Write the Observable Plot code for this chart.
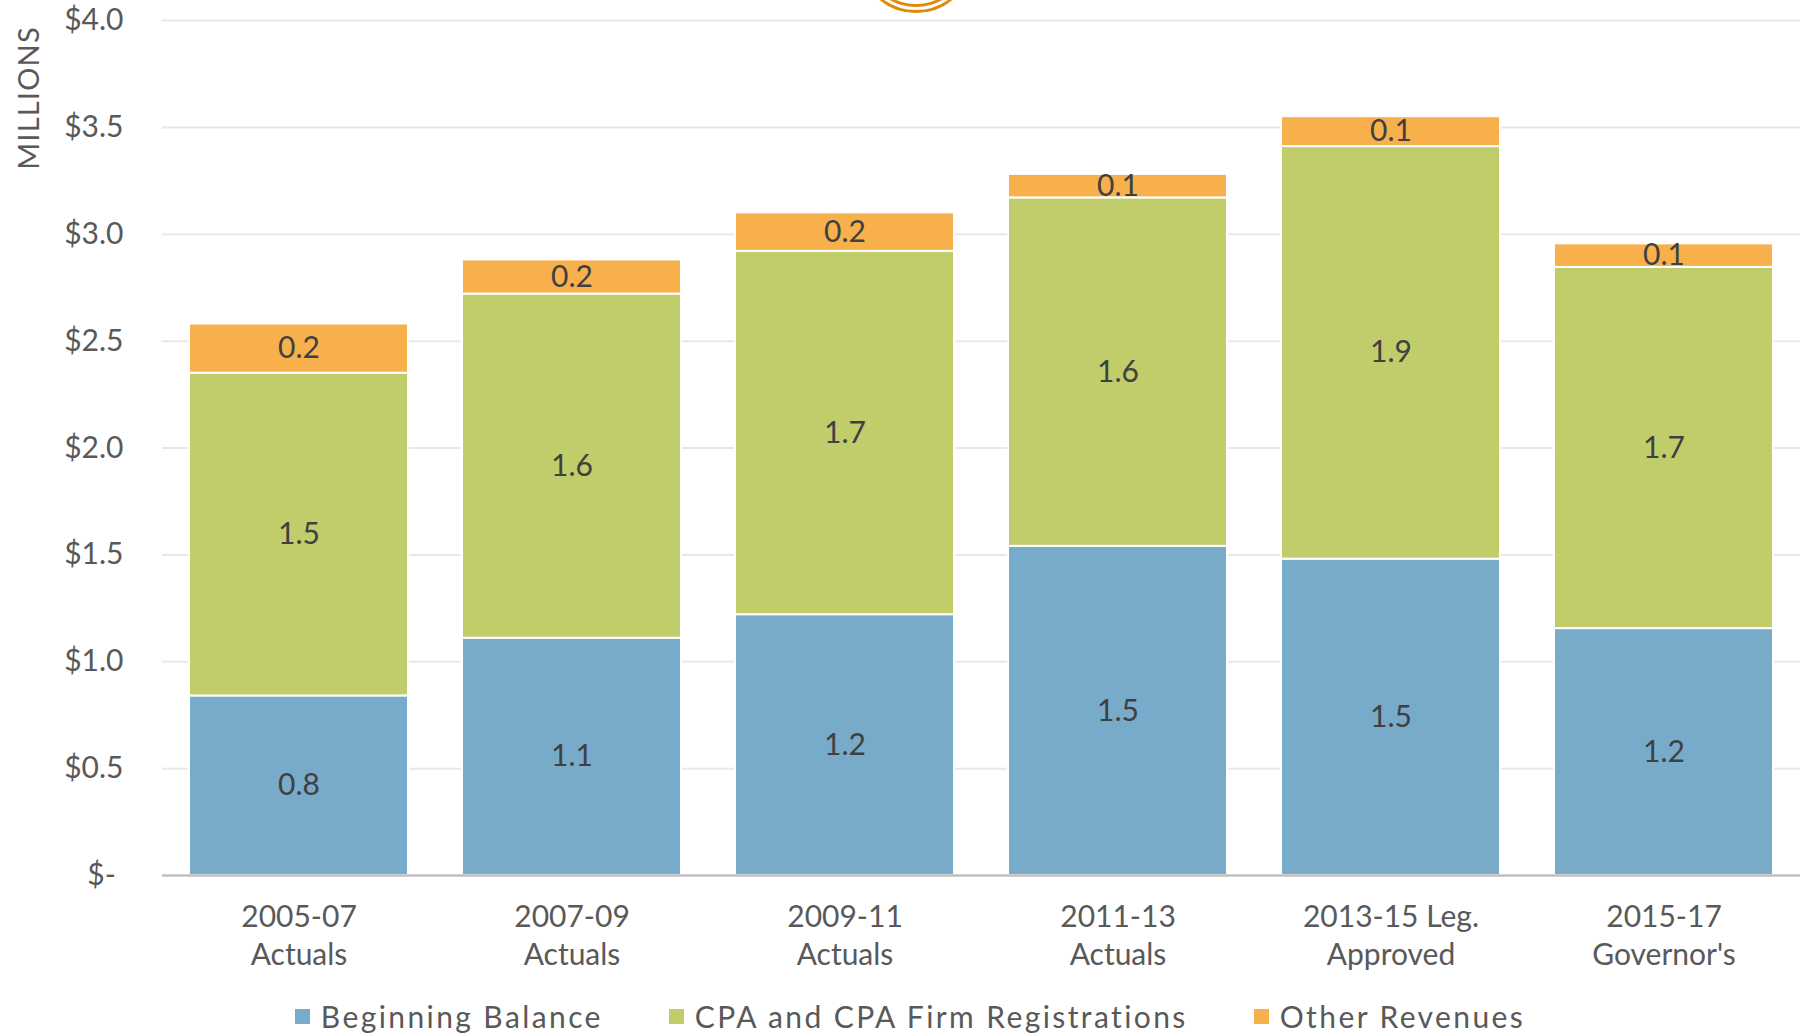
<!DOCTYPE html>
<html><head><meta charset="utf-8">
<script src="https://cdn.jsdelivr.net/npm/d3@7"></script>
<script src="https://cdn.jsdelivr.net/npm/@observablehq/plot@0.6"></script>
<style>
body{margin:0;background:#fff;font-family:Lato, "Open Sans", sans-serif;color:#595959;overflow:hidden;}
#wrap{position:relative;width:1804px;height:1035px;}
#legend{position:absolute;left:8px;top:998px;width:1804px;display:flex;justify-content:center;align-items:center;gap:0;font-size:30px;letter-spacing:2.4px;color:#595959;}
.item{display:flex;align-items:center;margin:0 33px;}
.sw{width:15px;height:15px;margin-right:11px;}
#millions{position:absolute;left:27px;top:98px;transform:translate(-50%,-50%) rotate(-90deg);font-size:29px;letter-spacing:1.2px;color:#595959;white-space:nowrap;}
#ring{position:absolute;left:858px;top:-103px;width:116px;height:116px;border-radius:50%;border:3.5px solid #e2890a;box-sizing:border-box;}
#ring2{position:absolute;left:864px;top:-97px;width:104px;height:104px;border-radius:50%;border:3.5px solid #e2890a;box-sizing:border-box;}
</style></head><body>
<div id="wrap"><div id="chart"></div><div id="ring"></div><div id="ring2"></div><div id="millions">MILLIONS</div><div id="legend"></div></div>
<script>
const categories = ["2005-07\nActuals", "2007-09\nActuals", "2009-11\nActuals", "2011-13\nActuals", "2013-15 Leg.\nApproved", "2015-17\nGovernor's"];
const seriesNames = ["Beginning Balance", "CPA and CPA Firm Registrations", "Other Revenues"];
const beginningBalance = [0.84, 1.11, 1.22, 1.54, 1.48, 1.155];
const cpaRegistrations = [1.51, 1.61, 1.70, 1.63, 1.93, 1.69];
const otherRevenues = [0.23, 0.16, 0.18, 0.11, 0.14, 0.11];
const seriesColors = ["#78abc9", "#c1cc6b", "#f7b04c"];
const yTicks = [0, 0.5, 1, 1.5, 2, 2.5, 3, 3.5, 4];

const seriesValues = [beginningBalance, cpaRegistrations, otherRevenues];
const data = [];
seriesNames.forEach((s, si) => categories.forEach((c, ci) => data.push({category: c, series: s, value: seriesValues[si][ci]})));

const chart = Plot.plot({
  width: 1804,
  height: 996,
  marginLeft: 162,
  marginRight: 4,
  marginTop: 20,
  marginBottom: 121,
  style: {fontFamily: "Lato, 'Open Sans', sans-serif", fontSize: "28px", color: "#595959", background: "#fff"},
  x: {domain: categories, paddingInner: 0.196, paddingOuter: 0.098, label: null},
  y: {domain: [0, 4], label: null},
  color: {domain: seriesNames, range: seriesColors},
  marks: [
    Plot.ruleY(yTicks.filter(d => d > 0), {stroke: "#e8e8e8", strokeWidth: 2}),
    Plot.barY(data, Plot.stackY({x: "category", y: "value", fill: "series", z: "series", order: seriesNames, stroke: "#fff", strokeWidth: 2})),
    Plot.ruleY([0], {stroke: "#bfbfbf", strokeWidth: 2.5}),
    Plot.text(data, Plot.stackY({x: "category", y: "value", z: "series", order: seriesNames, text: d => d.value.toFixed(1), fill: "#404040", fontSize: 30, letterSpacing: "1.5px"})),
    Plot.axisY({ticks: yTicks, tickSize: 0, tickPadding: 39, fontSize: 30, letterSpacing: "1.5px", tickFormat: d => d === 0 ? "$-\u00a0" : "$" + d.toFixed(1)}),
    Plot.axisX({tickSize: 0, tickPadding: 24, fontSize: 30, lineHeight: 1.27, letterSpacing: "2.2px", label: null})
  ]
});
document.getElementById("chart").appendChild(chart);

const legend = document.getElementById("legend");
seriesNames.forEach((s, i) => {
  const it = document.createElement("div");
  it.className = "item";
  const sw = document.createElement("span");
  sw.className = "sw";
  sw.style.background = seriesColors[i];
  const t = document.createElement("span");
  t.textContent = s;
  it.appendChild(sw); it.appendChild(t);
  legend.appendChild(it);
});
</script>
</body></html>
